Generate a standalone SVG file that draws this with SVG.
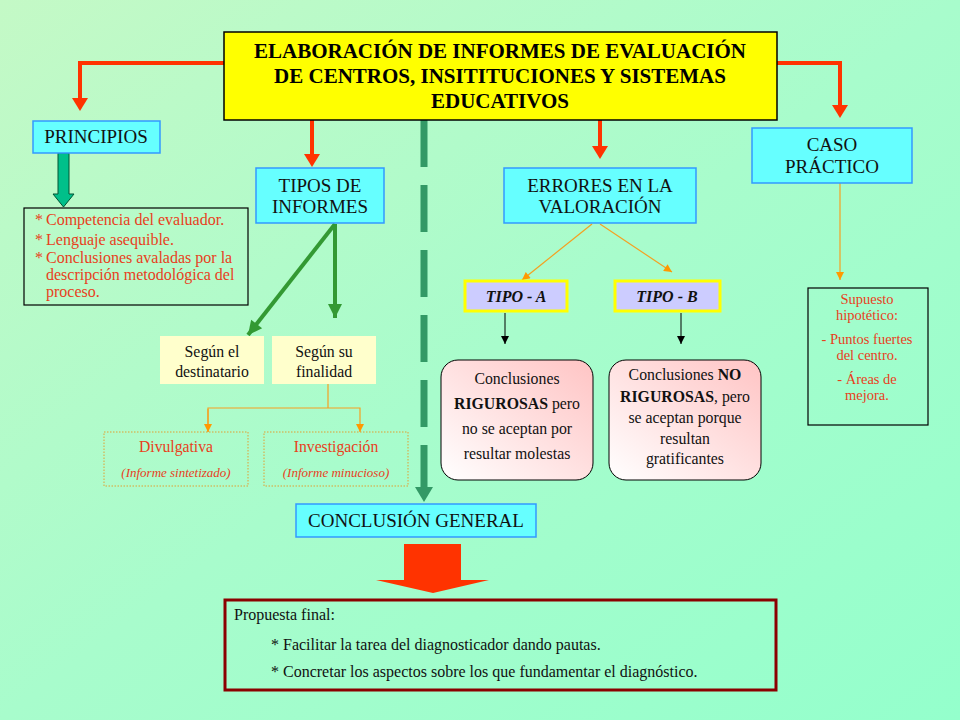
<svg xmlns="http://www.w3.org/2000/svg" width="960" height="720" viewBox="0 0 960 720" font-family="'Liberation Serif', 'DejaVu Serif', serif">
<defs>
  <linearGradient id="bg" x1="0" y1="0" x2="1" y2="1">
    <stop offset="0" stop-color="#c4f9c6"/>
    <stop offset="0.5" stop-color="#a8fccc"/>
    <stop offset="1" stop-color="#94ffcc"/>
  </linearGradient>
  <linearGradient id="pink" x1="1" y1="0" x2="0" y2="1">
    <stop offset="0" stop-color="#ffc4c4"/>
    <stop offset="0.45" stop-color="#ffdede"/>
    <stop offset="1" stop-color="#ffffff"/>
  </linearGradient>
  <marker id="orangeHead" viewBox="0 0 10 10" refX="10" refY="5" markerWidth="10" markerHeight="8" markerUnits="userSpaceOnUse" orient="auto">
    <path d="M0,0 L10,5 L0,10 Z" fill="#ff9900"/>
  </marker>
  <marker id="blackHead" viewBox="0 0 10 10" refX="10" refY="5" markerWidth="10" markerHeight="8" markerUnits="userSpaceOnUse" orient="auto">
    <path d="M0,0 L10,5 L0,10 Z" fill="#000000"/>
  </marker>
  <marker id="greenHead" viewBox="0 0 10 10" refX="10" refY="5" markerWidth="16" markerHeight="14" markerUnits="userSpaceOnUse" orient="auto">
    <path d="M0,0 L10,5 L0,10 Z" fill="#339933"/>
  </marker>
</defs>
<style>
  text { font-family: "Liberation Serif", "DejaVu Serif", serif; }
  .cyan { fill: #66ffff; stroke: #3399ff; stroke-width: 1.5; }
  .lbl { font-size: 19px; fill: #111111; text-anchor: middle; }
  .red { fill: #e8401c; }
  .small { font-size: 14.5px; }
  .cream { fill: #ffffcc; stroke: none; }
  .dotbox { fill: none; stroke: #e0a030; stroke-width: 1; stroke-dasharray: 1.5 1.5; }
  .tipo { fill: #ccccff; stroke: #ffff00; stroke-width: 3; }
  .pinkbox { fill: url(#pink); stroke: #000000; stroke-width: 1; }
  .blk { fill: #111111; font-size: 15.8px; text-anchor: middle; }
  .redc { fill: none; stroke: #ff3300; stroke-width: 4; }
  .orange { fill: none; stroke: #f5a020; stroke-width: 1.2; }
</style>
<rect x="0" y="0" width="960" height="720" fill="url(#bg)"/>

<g id="connectors">
  <polyline class="redc" points="224,63 80,63 80,100"/>
  <polygon points="72,98 88,98 80,111" fill="#ff3300"/>
  <polyline class="redc" points="777,63 840,63 840,107"/>
  <polygon points="832,105 848,105 840,118" fill="#ff3300"/>
  <line class="redc" x1="312" y1="120" x2="312" y2="156"/>
  <polygon points="304,154 320,154 312,167" fill="#ff3300"/>
  <line class="redc" x1="600" y1="120" x2="600" y2="148"/>
  <polygon points="592,146 608,146 600,159" fill="#ff3300"/>
  <polygon points="58,153 69,153 69,194 74,194 63.5,207 53,194 58,194" fill="#00c08a" stroke="#005533" stroke-width="1"/>
  <line x1="335" y1="224" x2="248" y2="335" stroke="#339933" stroke-width="4" marker-end="url(#greenHead)"/>
  <line x1="335" y1="224" x2="335" y2="318" stroke="#339933" stroke-width="4" marker-end="url(#greenHead)"/>
  <polyline class="orange" points="328,384 328,408"/>
  <polyline class="orange" points="208,432 208,408 360,408 360,432" marker-end="url(#orangeHead)"/>
  <line class="orange" x1="208" y1="409" x2="208" y2="432" marker-end="url(#orangeHead)"/>
  <line x1="424" y1="120" x2="424" y2="489" stroke="#339966" stroke-width="7" stroke-dasharray="47 18"/>
  <polygon points="415,487 433,487 424,502" fill="#339966"/>
  <line class="orange" x1="592" y1="224" x2="522" y2="280" marker-end="url(#orangeHead)"/>
  <line class="orange" x1="600" y1="224" x2="672" y2="272" marker-end="url(#orangeHead)"/>
  <line x1="505" y1="313" x2="505" y2="344" stroke="#000" stroke-width="1" marker-end="url(#blackHead)"/>
  <line x1="681" y1="313" x2="681" y2="344" stroke="#000" stroke-width="1" marker-end="url(#blackHead)"/>
  <line class="orange" x1="840" y1="183" x2="840" y2="280" marker-end="url(#orangeHead)"/>
  <polygon points="404,544 461,544 461,580 489,580 433,593 376,580 404,580" fill="#ff3300"/>
</g>

<g id="title">
  <rect x="224" y="32" width="553" height="88" fill="#ffff00" stroke="#000" stroke-width="1.5"/>
  <text x="500" y="58" text-anchor="middle" font-size="21" font-weight="bold" fill="#000">ELABORACIÓN  DE INFORMES DE EVALUACIÓN</text>
  <text x="500" y="83" text-anchor="middle" font-size="21" font-weight="bold" fill="#000">DE CENTROS, INSITITUCIONES  Y SISTEMAS</text>
  <text x="500" y="108" text-anchor="middle" font-size="21" font-weight="bold" fill="#000">EDUCATIVOS</text>
</g>

<g id="principios">
  <rect class="cyan" x="33" y="121" width="127" height="32"/>
  <text class="lbl" x="96" y="143">PRINCIPIOS</text>
</g>

<g id="principios-list">
  <rect x="24" y="208" width="224" height="97" fill="none" stroke="#000" stroke-width="1.2"/>
  <text class="red" font-size="16" x="35" y="225">* <tspan x="46">Competencia del evaluador.</tspan></text>
  <text class="red" font-size="16" x="35" y="245">* <tspan x="46">Lenguaje asequible.</tspan></text>
  <text class="red" font-size="16" x="35" y="263">* <tspan x="46">Conclusiones avaladas por la</tspan></text>
  <text class="red" font-size="16" x="46" y="280">descripción metodológica del</text>
  <text class="red" font-size="16" x="46" y="297">proceso.</text>
</g>

<g id="tipos">
  <rect class="cyan" x="256" y="168" width="128" height="55"/>
  <text class="lbl" x="320" y="192">TIPOS DE</text>
  <text class="lbl" x="320" y="213">INFORMES</text>
</g>

<g id="segun-destinatario">
  <rect class="cream" x="160" y="336" width="104" height="48"/>
  <text class="blk" x="212" y="357" font-size="15.5">Según el</text>
  <text class="blk" x="212" y="377" font-size="15.5">destinatario</text>
</g>

<g id="segun-finalidad">
  <rect class="cream" x="272" y="336" width="104" height="48"/>
  <text class="blk" x="324" y="357" font-size="15.5">Según su</text>
  <text class="blk" x="324" y="377" font-size="15.5">finalidad</text>
</g>

<g id="divulgativa">
  <rect class="dotbox" x="104" y="432" width="144" height="54"/>
  <text class="red" font-size="15.7" text-anchor="middle" x="176" y="452">Divulgativa</text>
  <text class="red" font-size="13" font-style="italic" text-anchor="middle" x="176" y="477">(Informe sintetizado)</text>
</g>

<g id="investigacion">
  <rect class="dotbox" x="264" y="432" width="144" height="54"/>
  <text class="red" font-size="15.7" text-anchor="middle" x="336" y="452">Investigación</text>
  <text class="red" font-size="13" font-style="italic" text-anchor="middle" x="336" y="477">(Informe minucioso)</text>
</g>

<g id="errores">
  <rect class="cyan" x="504" y="168" width="192" height="55"/>
  <text class="lbl" x="600" y="192">ERRORES EN LA</text>
  <text class="lbl" x="600" y="213">VALORACIÓN</text>
</g>

<g id="tipo-a">
  <rect class="tipo" x="465" y="281" width="102" height="30"/>
  <text x="516" y="302" text-anchor="middle" font-size="16" font-weight="bold" font-style="italic" fill="#111">TIPO - A</text>
</g>

<g id="tipo-b">
  <rect class="tipo" x="615" y="281" width="105" height="30"/>
  <text x="667" y="302" text-anchor="middle" font-size="16" font-weight="bold" font-style="italic" fill="#111">TIPO - B</text>
</g>

<g id="conclusiones-a">
  <rect class="pinkbox" x="441" y="360" width="152" height="120" rx="17"/>
  <text class="blk" x="517" y="384">Conclusiones</text>
  <text class="blk" x="517" y="409"><tspan font-weight="bold">RIGUROSAS</tspan> pero</text>
  <text class="blk" x="517" y="434">no se aceptan por</text>
  <text class="blk" x="517" y="459">resultar molestas</text>
</g>

<g id="conclusiones-b">
  <rect class="pinkbox" x="609" y="360" width="152" height="120" rx="17"/>
  <text class="blk" x="685" y="380">Conclusiones <tspan font-weight="bold">NO</tspan></text>
  <text class="blk" x="685" y="402"><tspan font-weight="bold">RIGUROSAS</tspan>, pero</text>
  <text class="blk" x="685" y="423">se aceptan porque</text>
  <text class="blk" x="685" y="444">resultan</text>
  <text class="blk" x="685" y="464">gratificantes</text>
</g>

<g id="caso">
  <rect class="cyan" x="752" y="128" width="160" height="55"/>
  <text class="lbl" x="832" y="151">CASO</text>
  <text class="lbl" x="832" y="173">PRÁCTICO</text>
</g>

<g id="supuesto">
  <rect x="808" y="288" width="120" height="137" fill="none" stroke="#000" stroke-width="1.2"/>
  <text class="red small" text-anchor="middle" x="867" y="304">Supuesto</text>
  <text class="red small" text-anchor="middle" x="867" y="320">hipotético:</text>
  <text class="red small" text-anchor="middle" x="867" y="344">- Puntos fuertes</text>
  <text class="red small" text-anchor="middle" x="867" y="360">del centro.</text>
  <text class="red small" text-anchor="middle" x="867" y="384">- Áreas de</text>
  <text class="red small" text-anchor="middle" x="867" y="400">mejora.</text>
</g>

<g id="conclusion-general">
  <rect class="cyan" x="296" y="504" width="240" height="33"/>
  <text class="lbl" x="416" y="527">CONCLUSIÓN GENERAL</text>
</g>

<g id="propuesta">
  <rect x="225" y="600" width="551" height="90" fill="none" stroke="#8b0000" stroke-width="3"/>
  <text x="234" y="620" font-size="16" fill="#111">Propuesta final:</text>
  <text x="271" y="650" font-size="16" fill="#111">* Facilitar la tarea del diagnosticador dando pautas.</text>
  <text x="271" y="677" font-size="16" fill="#111">* Concretar los aspectos sobre los que fundamentar el diagnóstico.</text>
</g>
</svg>
